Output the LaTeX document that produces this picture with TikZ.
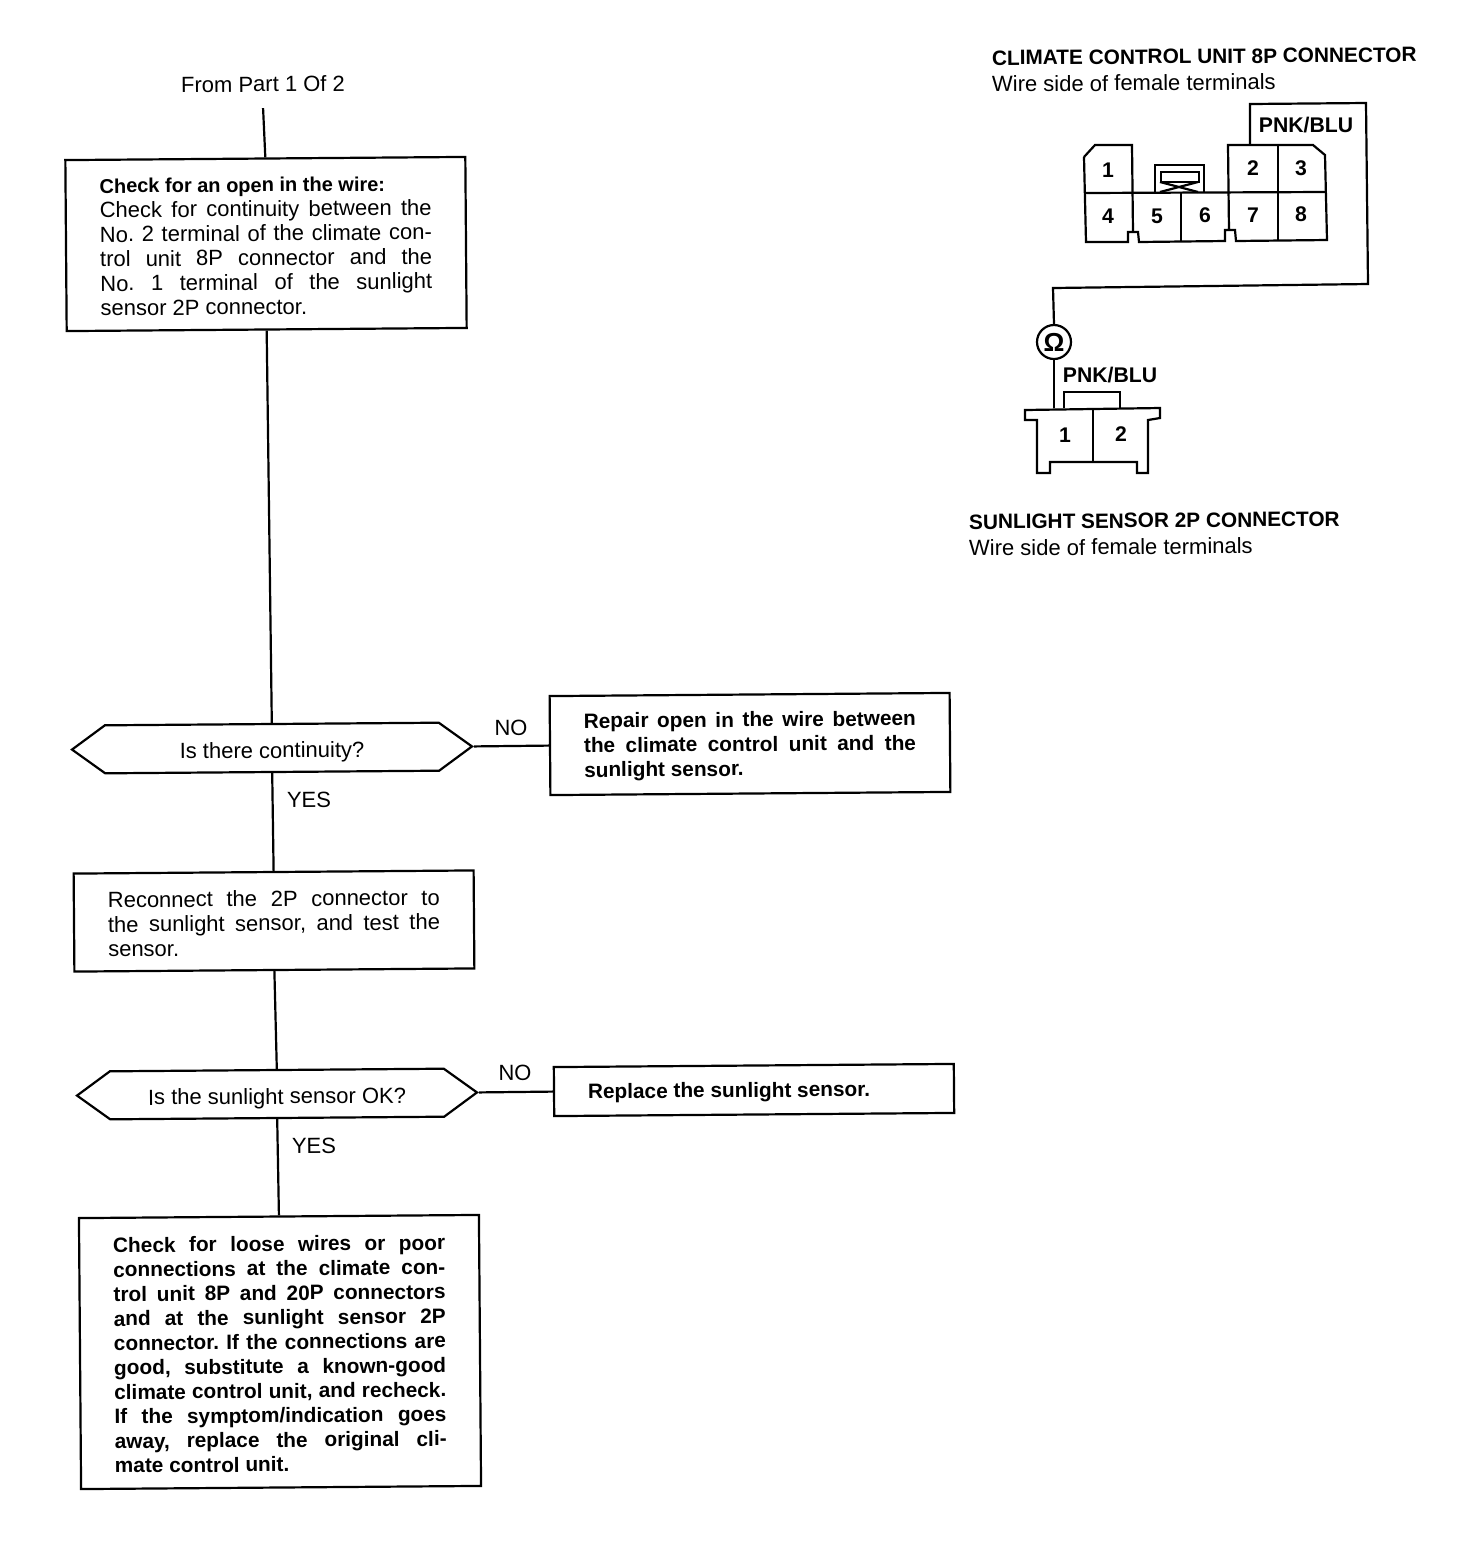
\documentclass[tikz,border=0pt]{standalone}
\usepackage{fontspec}
\setmainfont{Liberation Sans}
\usetikzlibrary{shapes.symbols}
\newcommand{\body}{\fontsize{11}{12.25}\selectfont\frenchspacing}
\newcommand{\bold}{\fontsize{10.4}{12.25}\selectfont\frenchspacing\bfseries}
\begin{document}
\begin{tikzpicture}[
  x=0.5pt, y=-0.5pt, line width=1.1pt, line join=miter,
  st/.style={draw, rotate=0.45, align=justify, font=\body, text width=166pt,
             inner xsep=17pt, inner ysep=2pt, minimum width=200pt,
             execute at end node={\endgraf\kern-2pt}},
  stb/.style={st, font=\bold},
  ask/.style={draw, rotate=0.45, signal, signal to=west and east, signal pointer angle=72,
              font=\body, minimum width=200pt, minimum height=24pt, inner sep=1pt,
              text height=10pt, text depth=0pt},
  lab/.style={font=\body, rotate=0.45, inner sep=0pt},
  head/.style={lab, anchor=west, font=\bold},
  sub/.style={lab, anchor=west},
  pin/.style={font=\fontsize{10.6}{12}\selectfont\bfseries, inner sep=0pt},
]
\useasboundingbox (0,0) rectangle (1472,1560);
% flow chart
\node[lab] (from) at (263,84) {From Part 1 Of 2};
\node[st, minimum height=85.5pt] (open) at (266,244)
  {{\fontsize{10}{12.25}\selectfont\bfseries Check for an open in the wire:}\\
   Check for continuity between the\linebreak
   No. 2 terminal of the climate con-\linebreak
   trol unit 8P connector and the\linebreak
   No. 1 terminal of the sunlight\linebreak
   sensor 2P connector.};
\node[ask] (cont) at (272,748) {Is there continuity?};
\node[stb, minimum height=49.5pt] (repair) at (750,744)
  {Repair open in the wire between\linebreak
   the climate control unit and the\linebreak
   sunlight sensor.};
\node[st, minimum height=49pt] (retest) at (274,921)
  {Reconnect the 2P connector to\linebreak
   the sunlight sensor, and test the\linebreak
   sensor.};
\node[ask] (okay) at (277,1094) {Is the sunlight sensor OK?};
\node[stb, minimum height=24.5pt] (replace) at (754,1090) {Replace the sunlight sensor.};
\node[stb, minimum height=135.5pt] (loose) at (280,1352)
  {Check for loose wires or poor\linebreak
   connections at the climate con-\linebreak
   trol unit 8P and 20P connectors\linebreak
   and at the sunlight sensor 2P\linebreak
   connector. If the connections are\linebreak
   good, substitute a known-good\linebreak
   climate control unit, and recheck.\linebreak
   If the symptom/indication goes\linebreak
   away, replace the original cli-\linebreak
   mate control unit.};
\draw ([yshift=-7.5pt]from.south) -- (open.north);
\draw (open.south) -- (cont.north);
\draw (cont.east) -- (repair.west);
\draw (cont.south) -- (retest.north);
\draw (retest.south) -- (okay.north);
\draw (okay.east) -- (replace.west);
\draw (okay.south) -- (loose.north);
\node[lab] (no1) at (511,728) {NO};
\node[lab] (yes1) at (309,800) {YES};
\node[lab] (no2) at (515,1073) {NO};
\node[lab] (yes2) at (314,1146) {YES};
% climate control unit connector
\node[head] (cchead) at (991,58) {CLIMATE CONTROL UNIT 8P CONNECTOR};
\node[sub] (ccsub) at (991,84) {Wire side of female terminals};
\draw (1084,157) -- (1095,145) -- (1132,145) -- (1133,232);
\draw (1084,157) -- (1086,242) -- (1128,242) -- (1128,232) -- (1138,232) -- (1139,242)
  -- (1225,241) -- (1225,230) -- (1235,230) -- (1236,241) -- (1327,240)
  -- (1325,155) -- (1313,145) -- (1228,145) -- (1229,231);
\draw (1084,193) -- (1325,192);
\draw (1278,145) -- (1278,240);
\draw (1181,193) -- (1181,241);
\draw (1155,192) -- (1155,165) -- (1204,165) -- (1204,192);
\draw (1161,172) rectangle (1199,182);
\draw (1160,182) -- (1198,192) (1198,182) -- (1160,192);
\foreach \n/\x/\y in {1/1108/170,2/1253/168,3/1301/168,4/1108/216,5/1157/216,6/1205/215,7/1253/215,8/1301/214}
  \node[pin] (cc\n) at (\x,\y) {\n};
\node[pin] (ccwire) at (1306,125) {PNK/BLU};
% wire and ohmmeter
\coordinate (wireA) at (1250,145);
\coordinate (wireB) at (1054,408);
\node[draw, circle, minimum size=17pt, inner sep=0pt, font=\fontsize{13}{14}\selectfont\bfseries] (ohm) at (1054,342) {Ω};
\draw (wireA) -- (1250,104) -- (1366,103) -- (1368,284) -- (1053,288) -- (ohm.north);
\draw (ohm.south) -- (wireB);
% sunlight sensor connector
\node[pin] (sswire) at (1110,375) {PNK/BLU};
\draw (1064,408) -- (1064,392) -- (1120,392) -- (1120,408);
\draw (1025,410) -- (1160,408) -- (1160,418) -- (1148,420) -- (1148,473) -- (1137,473) -- (1137,462)
  -- (1050,462) -- (1050,473) -- (1037,473) -- (1037,420) -- (1025,420) -- cycle;
\draw (1093,409) -- (1093,462);
\node[pin] (ss1) at (1065,435) {1};
\node[pin] (ss2) at (1121,434) {2};
\node[head] (sshead) at (968,522) {SUNLIGHT SENSOR 2P CONNECTOR};
\node[sub] (sssub) at (968,548) {Wire side of female terminals};
\end{tikzpicture}
\end{document}
